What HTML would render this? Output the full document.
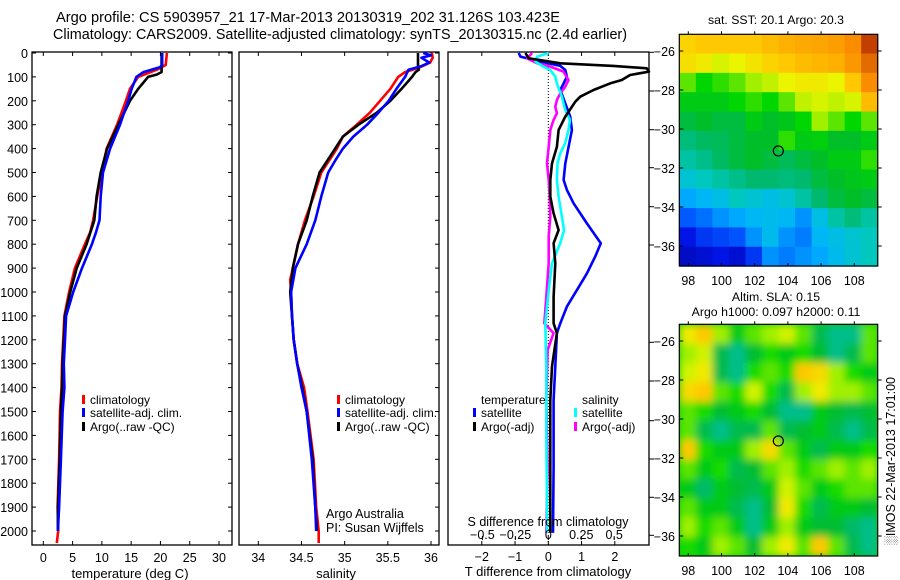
<!DOCTYPE html>
<html><head><meta charset="utf-8"><style>
html,body{margin:0;padding:0;background:#fff;}
svg{display:block;font-family:"Liberation Sans",sans-serif;}
</style></head><body>
<svg id="c" width="900" height="580" viewBox="0 0 900 580" xmlns="http://www.w3.org/2000/svg">
<defs>
<filter id="blur" x="-5%" y="-5%" width="110%" height="110%"><feGaussianBlur stdDeviation="4" edgeMode="duplicate"/></filter>
<clipPath id="clipSla"><rect x="679.3" y="324.3" width="198.4" height="231.7"/></clipPath>
</defs>
<text x="56" y="22" font-size="14.5" textLength="504" lengthAdjust="spacingAndGlyphs">Argo profile: CS 5903957_21 17-Mar-2013 20130319_202 31.126S 103.423E</text>
<text x="53" y="39" font-size="14.5" textLength="574" lengthAdjust="spacingAndGlyphs">Climatology: CARS2009. Satellite-adjusted climatology: synTS_20130315.nc (2.4d earlier)</text>
<g id="g"></g>
</svg>
<script>
// ---------- profile data ----------
const tClimDepth=[0,50,70,100,150,200,300,400,500,600,700,750,800,900,1000,1100,1200,1300,1400,1500,1700,1900,2000,2050];
const tClim=[21.1,20.9,19.4,16.2,14.8,14.1,12.6,10.8,10.0,9.2,8.5,8.0,7.1,5.4,4.4,3.6,3.4,3.2,3.1,2.85,2.7,2.45,2.55,2.3];
const tArgoDepth=[0,80,90,100,150,200,300,400,500,600,700,800,900,1000,1100,1200,1300,1400,1500,1700,1900,2000];
const tArgo=[20.2,20.2,19.4,17.9,16.2,14.8,12.8,10.9,9.8,9.1,8.7,7.4,5.7,4.6,3.7,3.5,3.3,3.2,3.0,2.8,2.5,2.5];
const tSatDepth=[0,50,60,80,100,150,200,300,400,500,600,700,750,800,900,1000,1100,1200,1300,1400,1500,1700,1900,2000];
const tSat=[20.3,20.3,19.9,17.1,15.9,15.1,14.5,13.1,11.4,10.2,9.8,9.6,9.0,8.3,6.6,5.1,3.9,3.7,3.5,3.6,3.3,3.0,2.7,2.5];

const sClimDepth=[0,20,40,60,80,100,150,200,250,300,350,400,500,600,700,800,900,950,1000,1100,1200,1300,1400,1500,1700,1900,2000,2050];
const sClim=[36.01,36.02,35.99,35.87,35.70,35.62,35.53,35.41,35.29,35.14,34.98,34.91,34.73,34.64,34.54,34.46,34.40,34.37,34.38,34.39,34.41,34.45,34.53,34.57,34.64,34.67,34.70,34.70];
const sArgoDepth=[0,60,70,80,100,150,200,250,300,350,400,500,600,700,800,900,1000,1100,1200,1300,1400,1500,1700,1900,2000];
const sArgo=[35.85,35.85,35.86,35.82,35.78,35.66,35.53,35.37,35.16,34.98,34.89,34.71,34.63,34.56,34.46,34.40,34.37,34.39,34.41,34.45,34.51,34.56,34.63,34.66,34.68];
const sSatDepth=[0,10,20,40,55,70,100,150,200,250,300,350,400,450,500,600,700,800,900,1000,1100,1200,1300,1400,1500,1700,1900,2000];
const sSat=[35.91,36.0,35.89,35.98,35.89,35.74,35.70,35.60,35.51,35.39,35.26,35.10,34.98,34.89,34.81,34.73,34.66,34.56,34.43,34.38,34.39,34.41,34.45,34.50,34.56,34.62,34.66,34.67];

// ---------- difference data ----------
const dTArgoDepth=[0,22,43,54,64,78,92,113,127,155,183,204,225,266,322,392,462,531,601,671,741,796,880,1020,1131,1172,1312,1452,1661,1940,2008];
const dTArgo=[-0.69,-0.59,0.36,1.96,2.96,3.31,2.46,2.21,1.86,1.36,0.96,0.81,0.71,0.51,0.31,0.26,0.11,0.06,0.06,0.16,0.31,0.16,0.21,0.16,0.16,0.26,0.11,0.06,0.06,0.06,0.06];
const dTSatDepth=[0,15,36,54,71,99,127,155,211,266,322,392,462,531,573,629,713,796,852,922,992,1061,1131,1172,1312,1452,1731,2008];
const dTSat=[-0.89,-0.84,-0.24,0.36,0.51,0.56,0.46,0.36,0.51,0.66,0.71,0.61,0.51,0.46,0.56,0.76,1.16,1.58,1.41,1.16,0.86,0.56,0.36,0.26,0.21,0.16,0.16,0.14];
const dSSatDepth=[0,15,36,54,71,99,127,183,238,280,322,378,420,462,531,601,685,741,796,880,992,1131,1312,1591,1870,2008];
const dSSat=[0.003,-0.085,-0.098,-0.047,0.015,0.053,0.065,0.103,0.128,0.165,0.153,0.128,0.09,0.07,0.065,0.078,0.103,0.12,0.09,0.028,0.003,-0.023,-0.015,-0.015,-0.01,-0.01];
const dSArgoDepth=[0,22,43,57,78,113,141,169,197,225,252,280,322,392,462,531,601,685,768,880,1020,1131,1172,1243,1452,1731,2008];
const dSArgo=[-0.123,-0.16,-0.085,0.015,0.115,0.153,0.128,0.09,0.065,0.053,0.065,0.04,0.015,0.003,-0.01,0.003,0.01,0.015,0.003,0.003,-0.015,-0.03,0.04,-0.005,-0.015,-0.005,-0.015];

// ---------- ticks ----------
const depthTicks=[0,100,200,300,400,500,600,700,800,900,1000,1100,1200,1300,1400,1500,1600,1700,1800,1900,2000];
const tempTicks=[0,5,10,15,20,25,30];
const salTicks=[34,34.5,35,35.5,36];
const salTickLabels=["34","34.5","35","35.5","36"];
const dTTicks=[-2,-1,0,1,2];
const dSTicks=[-0.5,-0.25,0,0.25,0.5];
const dSTickLabels=["-0.5","-0.25","0","0.25","0.5"];
const latTicks=[-26,-28,-30,-32,-34,-36];
const lonTicks=[98,100,102,104,106,108];

// ---------- map grids (12x12, rows north->south, normalised colour value) ----------
const sstGrid=[
[0.78,0.8,0.8,0.8,0.8,0.82,0.84,0.85,0.86,0.87,0.9,0.97],
[0.76,0.74,0.7,0.72,0.75,0.78,0.8,0.82,0.83,0.84,0.88,0.93],
[0.62,0.58,0.6,0.62,0.65,0.68,0.72,0.74,0.74,0.72,0.8,0.9],
[0.55,0.55,0.55,0.58,0.6,0.58,0.62,0.68,0.7,0.68,0.7,0.82],
[0.5,0.52,0.5,0.5,0.55,0.52,0.54,0.58,0.65,0.62,0.58,0.62],
[0.45,0.47,0.48,0.5,0.52,0.52,0.6,0.55,0.56,0.52,0.52,0.55],
[0.42,0.44,0.47,0.5,0.52,0.5,0.48,0.5,0.52,0.55,0.55,0.6],
[0.38,0.4,0.42,0.44,0.46,0.46,0.45,0.46,0.5,0.52,0.54,0.55],
[0.32,0.34,0.36,0.4,0.38,0.36,0.38,0.42,0.46,0.5,0.52,0.5],
[0.25,0.27,0.3,0.32,0.34,0.35,0.34,0.3,0.36,0.42,0.45,0.42],
[0.15,0.2,0.22,0.24,0.3,0.35,0.3,0.28,0.34,0.36,0.38,0.4],
[0.1,0.12,0.15,0.12,0.2,0.3,0.28,0.3,0.32,0.35,0.38,0.4]];
const slaGrid=[
[.68,.72,.62,.55,.6,.62,.65,.6,.5,.42,.45,.6],
[.62,.65,.5,.42,.52,.58,.55,.58,.52,.45,.5,.6],
[.65,.68,.5,.45,.58,.6,.58,.72,.7,.62,.58,.55],
[.7,.72,.6,.58,.65,.58,.5,.62,.68,.62,.62,.6],
[.6,.58,.52,.55,.58,.52,.45,.42,.55,.52,.5,.52],
[.6,.5,.45,.5,.5,.6,.5,.52,.55,.5,.45,.5],
[.72,.58,.55,.55,.62,.7,.6,.55,.5,.55,.55,.58],
[.6,.55,.58,.5,.52,.6,.62,.58,.6,.62,.6,.62],
[.55,.48,.55,.52,.5,.55,.65,.6,.55,.58,.6,.6],
[.6,.55,.55,.5,.45,.52,.68,.58,.5,.55,.55,.52],
[.62,.58,.6,.55,.45,.55,.62,.55,.52,.52,.48,.38],
[.58,.55,.62,.6,.52,.62,.68,.6,.72,.6,.5,.4]];
const argoLon=103.423, argoLat=-31.126;

// ---------- helpers ----------
const NS='http://www.w3.org/2000/svg';
const G=document.getElementById('g');
function mk(tag,attrs,parent){const e=document.createElementNS(NS,tag);for(const k in attrs)e.setAttribute(k,attrs[k]);(parent||G).appendChild(e);return e;}
function txt(x,y,s,size,anchor,parent){const t=mk('text',{x:x,y:y,'font-size':size,'text-anchor':anchor||'middle'},parent);t.textContent=s;return t;}
const Y=d=>53+d*0.239;
const PB=545;
function lin(d0,d1,r0,r1){return v=>r0+(v-d0)*(r1-r0)/(d1-d0);}
const xT=lin(0,30,43.3,219);
const xS=lin(34,36,258.3,431);
const xDT=lin(0,2,548.3,614.8);
const xDS=lin(0,0.5,548.3,614.2);

function frame(x0,x1,name){
  const r=mk('rect',{x:x0,y:52,width:x1-x0,height:PB-52,fill:'#fff',stroke:'#000','stroke-width':1.3});
  
  
}
function series(depths,vals,xf,color,name,clip){
  const pts=depths.map((d,i)=>{let x=xf(vals[i]);if(clip)x=Math.min(x,649);return x.toFixed(1)+','+Y(d).toFixed(1);}).join(' ');
  const p=mk('polyline',{points:pts,fill:'none',stroke:color,'stroke-width':2.6,'stroke-linejoin':'round'});
  
  
}
function legend(x,y,color,label,name){
  const g=mk('g',{});
  
  
  mk('rect',{x:x,y:y-9,width:3,height:9,fill:color},g);
  txt(x+8,y,label,12,'start',g);
}

// ---------- panel 1: temperature ----------
frame(32,232,'temperature-panel');
depthTicks.forEach(d=>{
  mk('line',{x1:32,x2:36,y1:Y(d),y2:Y(d),stroke:'#000'});
  mk('line',{x1:228,x2:232,y1:Y(d),y2:Y(d),stroke:'#000'});
  const t=txt(28,Y(d)+5,String(d),12.5,'end');
  
  
});
tempTicks.forEach(v=>{
  mk('line',{x1:xT(v),x2:xT(v),y1:PB,y2:PB-4,stroke:'#000'});
  mk('line',{x1:xT(v),x2:xT(v),y1:52,y2:56,stroke:'#000'});
  const t=txt(xT(v),562,String(v),12.5);
  
  
});
series(tClimDepth,tClim,xT,'#ff0000','temperature-climatology-line');
series(tArgoDepth,tArgo,xT,'#000000','temperature-argo-line');
series(tSatDepth,tSat,xT,'#0000ff','temperature-satellite-line');
legend(82,404,'#ff0000','climatology','legend-climatology');
legend(82,417,'#0000ff','satellite-adj. clim.','legend-satellite-adj');
legend(82,431,'#000000','Argo(..raw -QC)','legend-argo');
let t=txt(130,578,'temperature (deg C)',13);



// ---------- panel 2: salinity ----------
frame(239,439,'salinity-panel');
depthTicks.forEach(d=>{
  mk('line',{x1:435,x2:439,y1:Y(d),y2:Y(d),stroke:'#000'});
});
salTicks.forEach((v,i)=>{
  mk('line',{x1:xS(v),x2:xS(v),y1:PB,y2:PB-4,stroke:'#000'});
  mk('line',{x1:xS(v),x2:xS(v),y1:52,y2:56,stroke:'#000'});
  const t=txt(xS(v),562,salTickLabels[i],12.5);
  
  
});
series(sClimDepth,sClim,xS,'#ff0000','salinity-climatology-line');
series(sArgoDepth,sArgo,xS,'#000000','salinity-argo-line');
series(sSatDepth,sSat,xS,'#0000ff','salinity-satellite-line');
legend(337,404,'#ff0000','climatology','legend-climatology-2');
legend(337,417,'#0000ff','satellite-adj. clim.','legend-satellite-adj-2');
legend(337,431,'#000000','Argo(..raw -QC)','legend-argo-2');
t=txt(326,518,'Argo Australia',12.5,'start');


t=txt(326,532,'PI: Susan Wijffels',12.5,'start');


t=txt(336,578,'salinity',13);



// ---------- panel 3: differences ----------
frame(448,649,'difference-panel');
mk('line',{x1:xDT(0),x2:xDT(0),y1:52,y2:PB,stroke:'#000','stroke-dasharray':'1,2','stroke-width':1});
[52.3,91,129.7,167.7,206.7,245,342.3,381,420.7,459,497.3,535.3].forEach(y=>{
  mk('line',{x1:649,x2:654,y1:y,y2:y,stroke:'#000'});
});
[-2,0,1,2].forEach(v=>mk('line',{x1:xDT(v),x2:xDT(v),y1:52,y2:56,stroke:'#000'}));
dTTicks.forEach(v=>{
  mk('line',{x1:xDT(v),x2:xDT(v),y1:PB,y2:PB-4,stroke:'#000'});
  const t=txt(xDT(v),561,String(v).replace('-','\u2212'),12.5);
  
  
});
series(dTSatDepth,dTSat,xDT,'#0000ff','t-diff-satellite-line',true);
series(dSArgoDepth,dSArgo,xDS,'#ff00ff','s-diff-argo-line',true);
series(dSSatDepth,dSSat,xDS,'#00ffff','s-diff-satellite-line',true);
series(dTArgoDepth,dTArgo,xDT,'#000000','t-diff-argo-line',true);
dSTicks.forEach((v,i)=>{
  mk('line',{x1:xDS(v),x2:xDS(v),y1:536,y2:540,stroke:'#000'});
  const t=txt(xDS(v),539,dSTickLabels[i].replace('-','\u2212'),12.5);
  
  
});
t=txt(548,526,'S difference from climatology',12.5);


t=txt(548,576,'T difference from climatology',13);


t=txt(481,404,'temperature',12,'start');


t=txt(582,404,'salinity',12,'start');


legend(473,417,'#0000ff','satellite','legend-t-satellite');
legend(473,431,'#000000','Argo(-adj)','legend-t-argo');
legend(574,417,'#00ffff','satellite','legend-s-satellite');
legend(574,431,'#ff00ff','Argo(-adj)','legend-s-argo');

// ---------- maps ----------
const stops=[[0,[0,0,130]],[0.15,[0,20,230]],[0.25,[0,90,255]],[0.33,[0,180,255]],[0.4,[0,200,190]],[0.46,[0,185,110]],[0.52,[0,190,40]],[0.58,[0,215,0]],[0.65,[160,240,0]],[0.72,[235,245,0]],[0.8,[255,200,0]],[0.9,[250,140,0]],[1,[170,30,0]]];
function cmap(v){
  v=Math.max(0,Math.min(1,v));
  for(let i=1;i<stops.length;i++){if(v<=stops[i][0]){const a=stops[i-1],b=stops[i];const f=(v-a[0])/(b[0]-a[0]);
    const c=a[1].map((x,k)=>Math.round(x+(b[1][k]-x)*f));return 'rgb('+c.join(',')+')';}}
  return 'rgb(170,30,0)';
}
function map(top,bottom,grid,name,smooth){
  const L=679.3,R=877.7;
  const lonX=lin(98,108,688.3,854.3);
  const latY=lin(-26,-36,top+(51-34.3),top+(246-34.3));
  const lon0=97.46, lat0=-25.14, lat1=-37.03, lon1=109.41;
  const outer=mk('g',smooth?{'clip-path':'url(#clipSla)'}:{});
  
  
  if(smooth) mk('rect',{x:L,y:top,width:R-L,height:bottom-top,fill:cmap(0.56)},outer);
  const g=mk('g',smooth?{filter:'url(#blur)'}:{},outer);
  const n=grid.length,m=grid[0].length;
  // contrast stretch for smoothed map so blur keeps blob contrast (warm side only)
  const col=v=>smooth?cmap(v>0.56?0.56+(v-0.56)*1.5:Math.max(0.44,0.56+(v-0.56)*1.2)):cmap(v);
  grid.forEach((row,i)=>row.forEach((v,j)=>{
    const la=lat0+(lat1-lat0)*i/n, lb=lat0+(lat1-lat0)*(i+1)/n;
    const oa=lon0+(lon1-lon0)*j/m, ob=lon0+(lon1-lon0)*(j+1)/m;
    const c=mk('rect',{x:lonX(oa),y:latY(la),width:lonX(ob)-lonX(oa)+0.6,height:latY(lb)-latY(la)+0.6,fill:col(v)},g);
    
    
  }));
  mk('rect',{x:L,y:top,width:R-L,height:bottom-top,fill:'none',stroke:'#000','stroke-width':1.2});
  latTicks.forEach(la=>{
    mk('line',{x1:L,x2:L+4,y1:latY(la),y2:latY(la),stroke:'#000'});
    mk('line',{x1:R,x2:R+4,y1:latY(la),y2:latY(la),stroke:'#000'});
    const t=txt(675,latY(la)+5,String(la).replace('-','\u2212'),12.5,'end');
    
    
  });
  lonTicks.forEach(lo=>{
    mk('line',{x1:lonX(lo),x2:lonX(lo),y1:top,y2:top-3,stroke:'#000'});
    mk('line',{x1:lonX(lo),x2:lonX(lo),y1:bottom,y2:bottom-3,stroke:'#000'});
    const t=txt(lonX(lo),bottom+19,String(lo),12.5);
    
    
  });
  const c=mk('circle',{cx:lonX(argoLon),cy:latY(argoLat),r:5,fill:'none',stroke:'#000','stroke-width':1.2});
  
  
}
map(34.3,266,sstGrid,'sst-map',false);
map(324.3,556,slaGrid,'sla-map',true);
t=txt(776,24,'sat. SST: 20.1 Argo: 20.3',12.3);


t=txt(776,301,'Altim. SLA: 0.15',12.3);


t=txt(776,316,'Argo h1000: 0.097 h2000: 0.11',12.3);


t=txt(0,0,'\u2591IMOS 22-Mar-2013 17:01:00',12.5);
t.setAttribute('transform','translate(895,461) rotate(-90)');


</script>
</body></html>
